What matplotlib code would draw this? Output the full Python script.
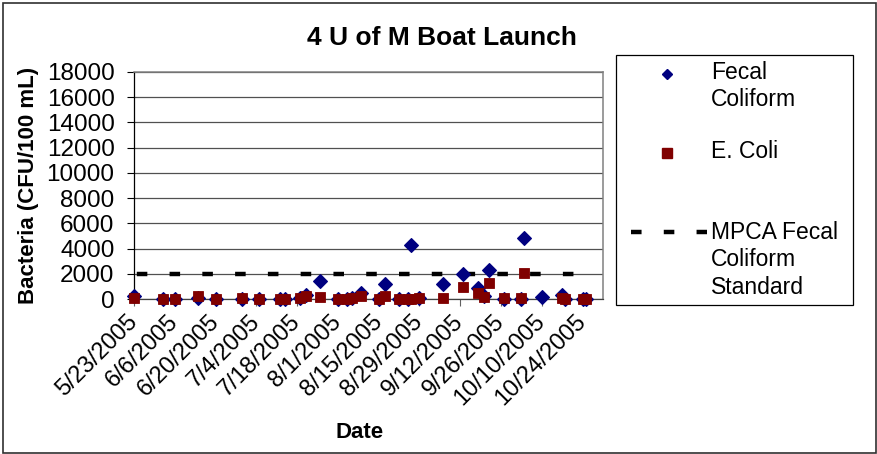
import numpy as np
import matplotlib
matplotlib.use("Agg")
import matplotlib.pyplot as plt
from matplotlib.lines import Line2D
from matplotlib.patches import Rectangle

plt.rcParams['font.family'] = ['Liberation Sans', 'DejaVu Sans']
plt.rcParams['lines.scale_dashes'] = False

# sampling dates and bacteria counts (CFU/100 mL)
dates = np.array([
    '2005-05-23', '2005-06-02', '2005-06-06', '2005-06-14', '2005-06-20',
    '2005-06-29', '2005-07-05', '2005-07-12', '2005-07-14', '2005-07-19',
    '2005-07-21', '2005-07-26', '2005-08-01', '2005-08-04', '2005-08-06',
    '2005-08-09', '2005-08-15', '2005-08-17', '2005-08-22', '2005-08-25',
    '2005-08-26', '2005-08-29', '2005-09-06', '2005-09-13', '2005-09-18',
    '2005-09-20', '2005-09-22', '2005-09-27', '2005-10-03', '2005-10-04',
    '2005-10-10', '2005-10-17', '2005-10-18', '2005-10-24', '2005-10-25',
], dtype='datetime64[D]')
fecal = [250, 20, 10, 80, 10, 20, 10, 10, 10, 60,
         300, 1400, 10, 30, 40, 450, 20, 1150, 20, 10,
         4300, 50, 1200, 2000, 850, 200, 2300, 30, 20, 4850,
         150, 300, 10, 10, 10]
ecoli = [50, 30, 30, 200, 10, 100, 20, 20, 20, 60,
         220, 130, 20, 30, 80, 200, 20, 250, 30, 20,
         20, 80, 60, 930, 500, 180, 1300, 50, 50, 2050,
         np.nan, 50, 0, 10, 10]

# MPCA fecal coliform standard
std_dates = np.array(['2005-05-23', '2005-10-24'], dtype='datetime64[D]')
std_vals = [2000, 2000]

tick_dates = np.arange(np.datetime64('2005-05-23'), np.datetime64('2005-10-25'), 14)
tick_labels = ['5/23/2005', '6/6/2005', '6/20/2005', '7/4/2005', '7/18/2005',
               '8/1/2005', '8/15/2005', '8/29/2005', '9/12/2005', '9/26/2005',
               '10/10/2005', '10/24/2005']

W, H = 878, 454
def fx(px):
    return px / W
def fy(py):
    return 1 - py / H

fig = plt.figure(figsize=(W / 100, H / 100), dpi=100)
ax = fig.add_axes([fx(134), fy(299), (603 - 134) / W, (299 - 72) / H])

navy = '#000080'
maroon = '#800000'
dash = (21.6, (7.6, 16.0))

ax.plot(std_dates, std_vals, color='black', lw=3.2, linestyle=dash, zorder=2)
ax.plot(dates, fecal, linestyle='none', marker='D', ms=7.0, mfc=navy, mec=navy,
        mew=0.8, zorder=3, clip_on=False)
ax.plot(dates, ecoli, linestyle='none', marker='s', ms=7.3, mfc=maroon, mec=maroon,
        mew=0.6, zorder=4, clip_on=False)

ax.set_xlim(np.datetime64('2005-05-23'), np.datetime64('2005-10-31'))
ax.set_ylim(0, 18000)
ax.set_yticks(np.arange(0, 18001, 2000))
ax.set_xticks(tick_dates)
ax.set_xticklabels(tick_labels, rotation=45, ha='right', va='center',
                   rotation_mode='anchor')

ax.yaxis.grid(True, color='#505050', lw=0.9)
ax.set_axisbelow(True)
ax.tick_params(axis='y', direction='out', length=5, width=0.8, labelsize=17.5, pad=9)
ax.tick_params(axis='x', direction='out', length=5, width=0.8, labelsize=17, pad=9,
               color='#606060')
for side in ['top', 'right']:
    ax.spines[side].set_color('#808080')
    ax.spines[side].set_linewidth(1.1)
ax.spines['left'].set_color('black')
ax.spines['left'].set_linewidth(0.9)
ax.spines['bottom'].set_color('#404040')
ax.spines['bottom'].set_linewidth(0.9)

ax.set_ylabel('Bacteria (CFU/100 mL)', fontsize=16, fontweight='bold', va='center')
ax.yaxis.set_label_coords((28.5 - 134) / (603 - 134), 0.5)
ax.set_xlabel('Date', fontsize=16, fontweight='bold')
ax.xaxis.set_label_coords(0.48, (299 - 432) / (299 - 72))
ax.xaxis.label.set_va('center')

fig.text(fx(442), fy(38), '4 U of M Boat Launch', fontsize=19, fontweight='bold',
         ha='center', va='center')

# legend box drawn by hand
fig.add_artist(Rectangle((fx(616), fy(305)), (853 - 616) / W, (305 - 55) / H,
                         transform=fig.transFigure, fill=False, ec='black', lw=0.9))
fig.add_artist(Line2D([fx(667)], [fy(74)], transform=fig.transFigure, marker='D',
                      ms=5.6, mfc=navy, mec=navy, linestyle='none'))
fig.add_artist(Line2D([fx(667)], [fy(153)], transform=fig.transFigure, marker='s',
                      ms=6.8, mfc=maroon, mec=maroon, linestyle='none'))
fig.add_artist(Line2D([fx(631), fx(707)], [fy(232), fy(232)], transform=fig.transFigure,
                      color='black', lw=3.2, linestyle=(0, (7.6, 16.0))))
leg_kw = dict(fontsize=16.5, ha='left', va='center', linespacing=1.24)
fig.text(fx(711), fy(86), 'Fecal\nColiform', **leg_kw)
fig.text(fx(711), fy(152), 'E. Coli', **leg_kw)
fig.text(fx(711), fy(260), 'MPCA Fecal\nColiform\nStandard', **leg_kw)

# outer chart border
fig.add_artist(Rectangle((fx(2.5), fy(452.5)), (876.5 - 2.5) / W, (452.5 - 2.5) / H,
                         transform=fig.transFigure, fill=False, ec='#303030', lw=1.2))

fig.savefig('out.png', dpi=100)
